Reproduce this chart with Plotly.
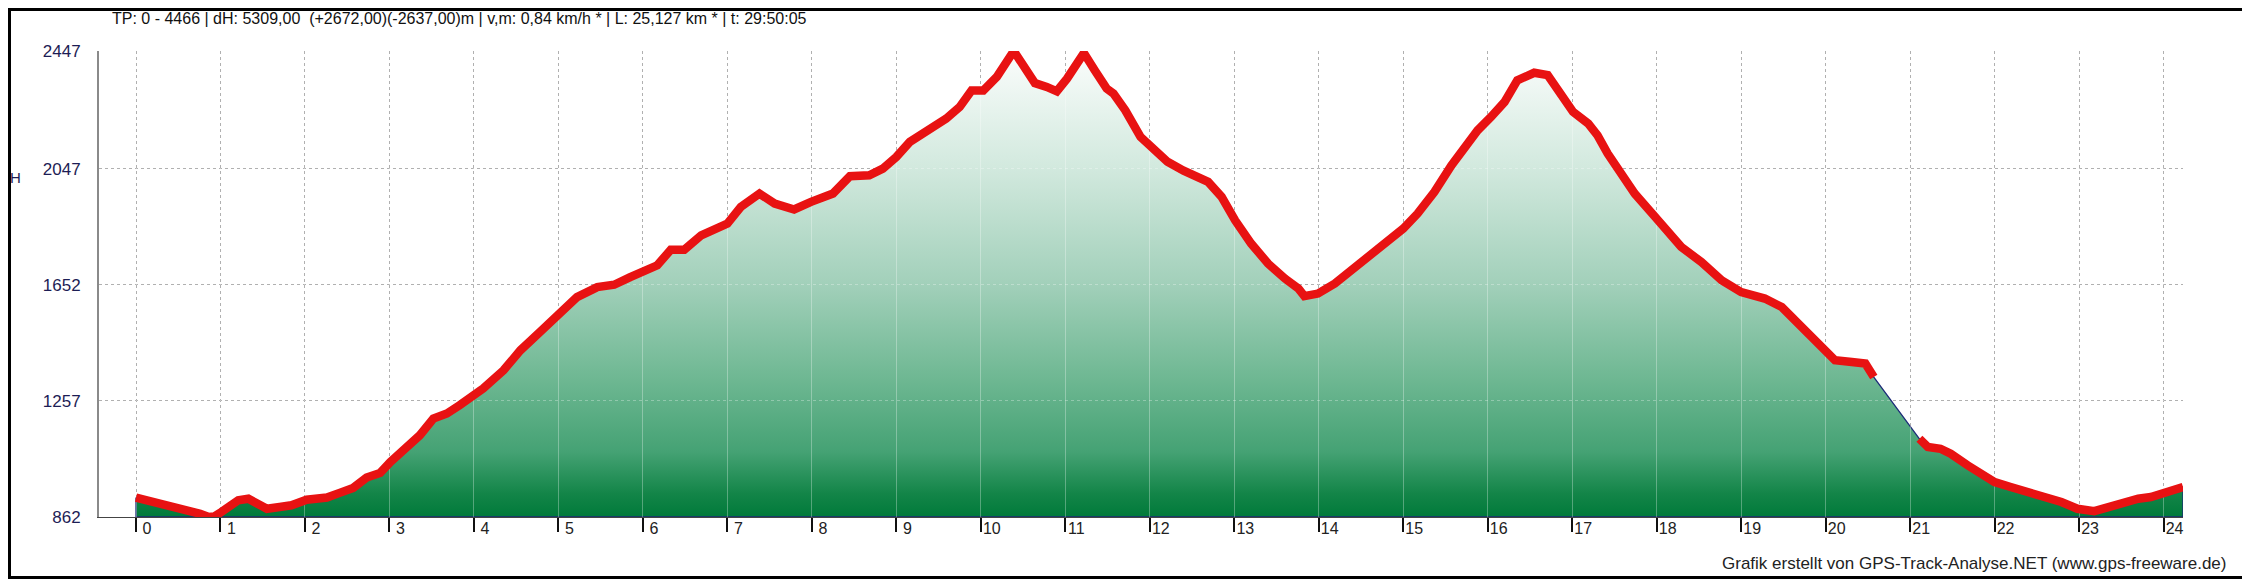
import plotly.graph_objects as go

# ---------------- data ----------------
km = [0.00, 0.13, 0.32, 0.48, 0.60, 0.76, 0.86, 0.93, 1.01, 1.11, 1.21, 1.33, 1.43, 1.55, 1.70, 1.84,
      2.02, 2.26, 2.41, 2.57, 2.73, 2.89, 3.01, 3.20, 3.36, 3.52, 3.68, 3.83, 4.00, 4.11, 4.35, 4.55,
      4.78, 5.00, 5.22, 5.46, 5.66, 5.85, 6.01, 6.17, 6.33, 6.49, 6.69, 6.88, 7.00, 7.16, 7.38, 7.56,
      7.79, 7.99, 8.09, 8.25, 8.45, 8.68, 8.84, 9.00, 9.16, 9.36, 9.59, 9.75, 9.89, 10.03, 10.19, 10.39,
      10.50, 10.64, 10.78, 10.90, 11.02, 11.22, 11.35, 11.49, 11.57, 11.71, 11.89, 12.01, 12.21, 12.40,
      12.69, 12.85, 13.01, 13.20, 13.40, 13.60, 13.76, 13.83, 13.99, 14.19, 14.43, 14.70, 15.00, 15.17,
      15.37, 15.57, 15.72, 15.88, 16.04, 16.20, 16.35, 16.49, 16.55, 16.71, 16.83, 17.01, 17.19, 17.30,
      17.42, 17.58, 17.74, 17.98, 18.09, 18.29, 18.53, 18.77, 19.00, 19.28, 19.48, 19.68, 19.87, 20.11,
      20.31, 20.47, 20.57, 21.11, 21.21, 21.36, 21.48, 21.68, 21.88, 22.00, 22.19, 22.39, 22.59, 22.79,
      22.98, 23.18, 23.34, 23.54, 23.70, 23.85, 24.01, 24.23]
elev = [928, 919, 904, 896, 885, 873, 862, 864, 879, 902, 919, 924, 907, 890, 896, 902,
        921, 928, 944, 961, 996, 1012, 1049, 1094, 1140, 1197, 1214, 1242, 1275, 1299, 1361, 1429,
        1491, 1554, 1610, 1644, 1652, 1678, 1701, 1718, 1771, 1771, 1820, 1843, 1860, 1917, 1962, 1928,
        1908, 1934, 1945, 1962, 2021, 2024, 2047, 2087, 2138, 2177, 2217, 2257, 2313, 2313, 2359, 2447,
        2393, 2338, 2325, 2310, 2353, 2440, 2381, 2319, 2302, 2245, 2155, 2126, 2070, 2040,
        2002, 1951, 1871, 1792, 1724, 1673, 1639, 1613, 1622, 1656, 1713, 1771, 1843, 1894,
        1968, 2058, 2121, 2177, 2223, 2274, 2347, 2370, 2373, 2365, 2314, 2240, 2200, 2160,
        2098, 2024, 1962, 1883, 1843, 1781, 1729, 1667, 1627, 1605, 1576, 1520, 1469, 1395,
        1389, 1384, 1338, 1128, 1100, 1094, 1077, 1038, 1004, 981, 964, 944, 930, 913,
        890, 882, 896, 913, 924, 930, 947, 964]
gap_start_km = 20.57          # track has no recorded points until the next sample

y_ticks = [862, 1257, 1652, 2047, 2447]
y_ticktext = ["862", "1257", "1652", "2047", "2447"]
x_ticks = list(range(0, 25))
x_ticktext = [str(v) for v in x_ticks]

title_text = ("TP: 0 - 4466 | dH: 5309,00  (+2672,00)(-2637,00)m | v,m: 0,84 km/h * | "
              "L: 25,127 km * | t: 29:50:05")
footer_text = "Grafik erstellt von GPS-Track-Analyse.NET (www.gps-freeware.de)"
y_title = "H"

# ---------------- layout geometry (page pixels) ----------------
PAGE_W, PAGE_H = 2250, 579
BODY = 8                                # default page margin of the html body
W, H = PAGE_W - BODY, PAGE_H - BODY     # figure size so it ends at the window edge
PLOT_L, PLOT_R, PLOT_T, PLOT_B = 99, 2183, 51, 517   # plot area in page pixels
ML, MT = PLOT_L - BODY, PLOT_T - BODY
MR, MB = PAGE_W - PLOT_R, PAGE_H - PLOT_B
PW, PH = W - ML - MR, H - MT - MB


def px_x(px):
    return (px - PLOT_L) / PW


def px_y(py):
    return (PLOT_B - py) / PH


NARROW = "Liberation Sans Narrow, Arial Narrow, Liberation Sans, Arial, sans-serif"
REG = "Liberation Sans, Arial, sans-serif"

y_min, y_max = min(y_ticks), max(y_ticks)
x_range = [-0.438, km[-1]]

# filled profile polygon closed on the axis baseline
poly_x = km + [km[-1], km[0], km[0]]
poly_y = elev + [y_min, y_min, elev[0]]

# red track line, broken where the track has a gap
red_x, red_y = [], []
for xv, yv in zip(km, elev):
    red_x.append(xv)
    red_y.append(yv)
    if xv == gap_start_km:
        red_x.append(None)
        red_y.append(None)

fig = go.Figure()
fig.add_trace(go.Scatter(
    x=poly_x, y=poly_y, mode="lines", fill="toself",
    fillgradient=dict(type="vertical", start=y_min, stop=y_max,
                      colorscale=[[0.0, "#007a3a"], [0.05, "#138548"], [0.14, "#45a274"],
                                  [0.3, "#6fb893"], [0.5, "#a2d0ba"], [0.75, "#d2e9de"],
                                  [1.0, "#fbfdfc"]]),
    line=dict(color="#1c2a78", width=1.3),
    hoverinfo="skip", showlegend=False, xaxis="x", yaxis="y"))
fig.add_trace(go.Scatter(
    x=red_x, y=red_y, mode="lines", connectgaps=False,
    line=dict(color="#e81212", width=8.5),
    showlegend=False, xaxis="x2", yaxis="y2"))

fig.update_layout(
    width=W, height=H, autosize=False,
    margin=dict(l=ML, r=MR, t=MT, b=MB, pad=0),
    paper_bgcolor="white", plot_bgcolor="rgba(0,0,0,0)",
    showlegend=False,
    xaxis=dict(domain=[0, 1], anchor="y", range=x_range, tickmode="array", tickvals=x_ticks,
               showticklabels=False, ticks="outside", ticklen=14, tickwidth=2, tickcolor="#111",
               showgrid=True, gridcolor="#8f8f8f", gridwidth=1, griddash="dot",
               zeroline=False, showline=True, linecolor="#444", linewidth=1),
    yaxis=dict(domain=[0, 1], anchor="x", range=[y_min, y_max], tickmode="array",
               tickvals=y_ticks, ticktext=y_ticktext, ticks="", ticklabelstandoff=13,
               tickfont=dict(family=REG, size=17, color="#1d1d55"),
               showgrid=True, gridcolor="#8f8f8f", gridwidth=1, griddash="dot",
               zeroline=False, showline=True, linecolor="#8a8a8a", linewidth=2),
    xaxis2=dict(domain=[0, 1], anchor="y2", range=x_range, tickmode="array", tickvals=x_ticks,
                ticktext=x_ticktext, showticklabels=True, ticks="", ticklabelshift=11,
                tickfont=dict(family=NARROW, size=16, color="#222"),
                showgrid=True, gridcolor="rgba(255,255,255,0.3)", gridwidth=1,
                zeroline=False, showline=False),
    yaxis2=dict(domain=[0, 1], anchor="x2", range=[y_min, y_max], tickmode="array",
                tickvals=y_ticks, showticklabels=False, ticks="",
                showgrid=True, gridcolor="rgba(255,255,255,0.3)", gridwidth=1, griddash="dot",
                zeroline=False, showline=False),
    annotations=[
        dict(text=title_text, xref="paper", yref="paper", x=px_x(110), y=px_y(19),
             xanchor="left", yanchor="middle", showarrow=False,
             font=dict(family=NARROW, size=16, color="#111")),
        dict(text=footer_text, xref="paper", yref="paper", x=px_x(2228), y=px_y(563),
             xanchor="right", yanchor="middle", showarrow=False,
             font=dict(family=REG, size=17, color="#222")),
        dict(text=y_title, xref="paper", yref="paper", x=px_x(15), y=px_y(177),
             xanchor="center", yanchor="middle", showarrow=False,
             font=dict(family=REG, size=15, color="#1d1d55")),
    ],
    shapes=[dict(type="rect", xref="paper", yref="paper",
                 x0=px_x(BODY), x1=px_x(PAGE_W), y0=px_y(PAGE_H), y1=px_y(BODY),
                 line=dict(color="#000", width=6), fillcolor="rgba(0,0,0,0)", layer="above")],
)

fig.write_html("out.html")
